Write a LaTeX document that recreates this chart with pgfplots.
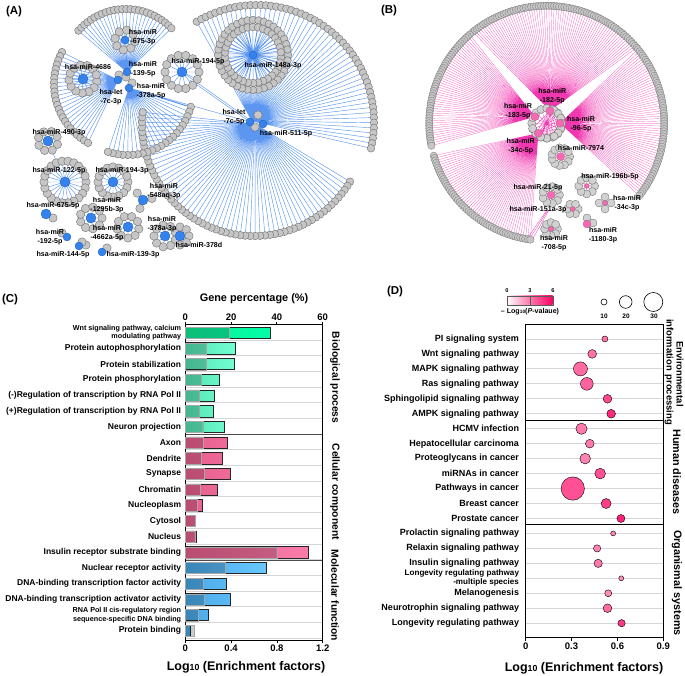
\documentclass[border=0pt]{standalone}
\usepackage{pgfplots}
\pgfplotsset{compat=1.18}
\usepackage{fontspec}
\setmainfont{Liberation Sans}
\definecolor{netblue}{HTML}{5C96F0}
\definecolor{hubblue}{HTML}{3482EE}
\definecolor{netpink}{HTML}{F038B0}
\definecolor{hubpink}{HTML}{F868B4}
\definecolor{nodefill}{HTML}{C6C6C6}
\definecolor{nodeline}{HTML}{6E6E6E}
\definecolor{rowline}{HTML}{D6D6D6}
\definecolor{g1}{HTML}{55E4B4}\definecolor{g2}{HTML}{72FFD2}
\definecolor{w1}{HTML}{10EE98}\definecolor{w2}{HTML}{00FFA8}
\definecolor{p1}{HTML}{E8608F}\definecolor{p2}{HTML}{F97CA8}
\definecolor{b1}{HTML}{4AA8E8}\definecolor{b2}{HTML}{68C8FF}
\definecolor{cmid}{RGB}{255,122,172}\definecolor{ctop}{RGB}{255,0,100}
\newcommand\F[1]{\bfseries\fontsize{#1}{#1}\selectfont}
\newcommand\SC{\fontsize{7.2}{8}\selectfont}
\newcommand\SD{\fontsize{8.1}{8.6}\selectfont}

% ---- layout helpers for the two network diagrams
\gdef\LinesA{}\gdef\LinesM{}\gdef\NodesA{}\gdef\SmallA{}\gdef\LinesB{}\gdef\LinesBf{}\gdef\NodesB{}\gdef\SmallB{}
\def\curL{LinesA}\def\curN{NodesA}
\newcommand\fan[8]{%
  \pgfmathtruncatemacro\mm{#8-1}%
  \foreach \i in {0,...,\mm}{%
    \pgfmathsetmacro\a{#6+(#7-(#6))*\i/\mm}%
    \pgfmathsetmacro\xx{#3+#5*cos(\a)}%
    \pgfmathsetmacro\yy{#4+#5*sin(\a)}%
    \expandafter\xdef\csname\curL\endcsname{\csname\curL\endcsname (#1,#2) (\xx,\yy) (nan,nan) }%
    \expandafter\xdef\csname\curN\endcsname{\csname\curN\endcsname (\xx,\yy) }%
  }}
\newcommand\ring[5]{\pgfmathsetmacro\aend{#5+360-360/#4}\edef\tmpa{\aend}%
  \fan{#1}{#2}{#1}{#2}{#3}{#5}{\tmpa}{#4}}
\newcommand\edge[4]{\expandafter\xdef\csname\curL\endcsname{\csname\curL\endcsname (#1,#2) (#3,#4) (nan,nan) }}
\newcommand\onenode[2]{\expandafter\xdef\csname\curN\endcsname{\csname\curN\endcsname (#1,#2) }}

% panel A
\fan{252}{121}{257}{122}{117}{-121}{13}{54}
\fan{255}{124}{254}{124}{112}{31}{186}{62}
\fan{127}{72}{126}{72}{63}{-139}{-44}{26}
\fan{118}{80}{122}{84}{68}{208}{120}{24}
\fan{129}{88}{128}{90}{65}{15}{108}{22}
\edge{118}{80}{83}{79}\edge{127}{72}{125}{40}\edge{48}{141}{60}{170}
\edge{182}{72}{250}{120}\edge{190}{80}{250}{122}\edge{129}{88}{250}{122}\edge{129}{88}{186}{106}
\def\curL{LinesM}
\ring{253}{55}{35}{40}{0}
\ring{253}{55}{28}{34}{5}
\def\curL{LinesM}\def\curN{SmallA}
\ring{125}{40}{10}{8}{10}
\ring{182}{72}{17}{14}{0}
\ring{83}{79}{14}{13}{10}
\ring{48}{141}{10}{8}{20}
\ring{65}{182}{21}{22}{0}
\ring{113}{182}{15}{16}{0}
\ring{143}{200}{9}{3}{-130}
\ring{91}{218}{11}{9}{0}
\ring{128}{227}{11}{9}{10}
\ring{165}{236}{11}{9}{20}
\fan{180}{236}{180}{236}{9}{-90}{90}{5}
\edge{46}{214}{53}{218}\onenode{53}{218}
\edge{67}{237}{62}{233}\onenode{62}{233}
\edge{79}{246}{86}{245}\onenode{86}{245}\edge{79}{246}{82}{242}\onenode{82}{242}
\edge{102}{252}{107}{248}\onenode{107}{248}
\edge{118}{80}{119}{75}\onenode{119}{75}\onenode{126}{77}\onenode{132}{83}
\onenode{258}{115}\onenode{255}{127}

% panel B
\def\curL{LinesB}\def\curN{NodesB}
\fan{550}{110.7}{546.7}{123.3}{117.5}{-129}{-40}{72}
\fan{560}{123.3}{546.7}{123.3}{117.5}{-39}{38}{62}
\fan{535}{116.7}{546.7}{123.3}{117.5}{-131}{-191}{50}
\fan{538.3}{133.3}{546.7}{123.3}{117.5}{164}{98}{54}
\def\curL{LinesBf}\def\curN{SmallB}
\edge{530}{238}{548}{210}\edge{532}{240}{549}{210}\edge{529}{236}{547}{210}
\ring{546.7}{123.3}{15}{16}{0}
\fan{550}{110.7}{546.7}{123.3}{15}{20}{160}{7}
\fan{538.3}{133.3}{546.7}{123.3}{15}{-60}{60}{7}
\ring{560.7}{156.7}{9}{11}{0}
\ring{586.7}{186}{8}{8}{0}
\ring{551}{195}{8.5}{9}{0}
\ring{572.7}{209}{5.5}{6}{0}
\ring{551}{229}{6.5}{8}{0}
\ring{605}{203}{6}{4}{0}
\edge{587}{224}{587}{218}\onenode{587}{218}\edge{587}{224}{593}{223}\onenode{593}{223}

\pgfplotsset{colormap={pinkscale}{rgb255(0cm)=(255,255,255); rgb255(3cm)=(255,122,172); rgb255(6cm)=(255,0,100)},
  pix/.style={at={(0pt,0pt)},anchor=south west,width=685pt,height=676pt,scale only axis,
  xmin=0,xmax=685,ymin=0,ymax=676,y dir=reverse,hide axis,clip=false,unbounded coords=jump}}

% row separators in panel C
\gdef\RowsC{}
\foreach \i in {0,...,19}{\pgfmathsetmacro\yy{\i+0.47}\xdef\RowsC{\RowsC (0,\yy) (1.2,\yy) (nan,nan) }}

\begin{document}
\begin{tikzpicture}
\path[use as bounding box] (0pt,0pt) rectangle (685pt,676pt);

% ===== Network panels on a pixel axis
\begin{axis}[pix]
\edef\tmp{\noexpand\addplot[color=netblue,line width=.45pt,no marks] coordinates {\LinesA};}\tmp
\addplot[only marks,mark=*,mark size=37pt,mark options={fill=white,draw=none}] coordinates {(253,55)};
\end{axis}
\begin{axis}[pix]
\edef\tmp{\noexpand\addplot[color=netblue,line width=.45pt,no marks] coordinates {\LinesM};}\tmp
\edef\tmp{\noexpand\addplot[color=netpink,line width=.2pt,no marks] coordinates {\LinesB};}\tmp
\edef\tmp{\noexpand\addplot[color=netpink,line width=.3pt,no marks] coordinates {\LinesBf};}\tmp
\edef\tmp{\noexpand\addplot[only marks,mark=*,mark size=3.8pt,mark options={fill=nodefill,draw=nodeline,line width=.4pt}] coordinates {\NodesA};}\tmp
\edef\tmp{\noexpand\addplot[only marks,mark=*,mark size=4.2pt,mark options={fill=nodefill,draw=nodeline,line width=.4pt}] coordinates {\SmallA};}\tmp
\addplot[only marks,mark=*,mark size=5pt,mark options={fill=hubblue,draw=hubblue!70!black,line width=.3pt}] coordinates {(83,79)(48,141)(65,182)(113,182)(182,72)(143,200)(46,214)(91,218)(128,227)(165,236)(180,236)};
\addplot[only marks,mark=*,mark size=4pt,mark options={fill=hubblue,draw=hubblue!70!black,line width=.3pt}] coordinates {(250,122)(263,124)(127,72)(118,80)(129,88)(67,237)(79,246)(102,252)(125,40)(253,55)};
\edef\tmp{\noexpand\addplot[only marks,mark=*,mark size=3.7pt,mark options={fill=nodefill,draw=nodeline,line width=.25pt}] coordinates {\NodesB};}\tmp
\edef\tmp{\noexpand\addplot[only marks,mark=*,mark size=4pt,mark options={fill=nodefill!80!white,draw=nodeline,line width=.35pt}] coordinates {\SmallB};}\tmp
\addplot[only marks,mark=*,mark size=4pt,mark options={fill=hubpink,draw=nodeline!70!hubpink,line width=.3pt}] coordinates {(550,110.7)(560,123.3)(535,116.7)(538.3,133.3)(560.7,156.7)(551,195)(587,224)};
\addplot[only marks,mark=*,mark size=2.5pt,mark options={fill=hubpink,draw=nodeline!70!hubpink,line width=.3pt}] coordinates {(586.7,186)(572.7,209)(551,229)(605,203)};
% size legend of panel D
\addplot[only marks,mark=*,mark size=3pt,mark options={fill=white,draw=black,line width=.6pt}] coordinates {(604,302)};
\addplot[only marks,mark=*,mark size=6.3pt,mark options={fill=white,draw=black,line width=.6pt}] coordinates {(625.7,302)};
\addplot[only marks,mark=*,mark size=9.5pt,mark options={fill=white,draw=black,line width=.6pt}] coordinates {(653.3,302)};
\end{axis}

% ===== Free text
\begin{axis}[pix]
\tikzset{lab/.style={font=\F{7.1},align=center,inner sep=0pt,text=black}}
\node[lab] at (axis cs:143,37) {hsa-miR\\[2pt]-675-3p};
\node[lab] at (axis cs:88,67) {hsa-miR-4686};
\node[lab] at (axis cs:143,69) {hsa-miR\\[2pt]-139-5p};
\node[lab] at (axis cs:198,62) {hsa-miR-194-5p};
\node[lab] at (axis cs:273,66) {hsa-miR-148a-3p};
\node[lab] at (axis cs:111,97) {hsa-let\\[2pt]-7c-3p};
\node[lab] at (axis cs:151,91) {hsa-miR\\[2pt]-378a-5p};
\node[lab] at (axis cs:234,117) {hsa-let\\[2pt]-7c-5p};
\node[lab] at (axis cs:286,134) {hsa-miR-511-5p};
\node[lab] at (axis cs:59,133) {hsa-miR-490-3p};
\node[lab] at (axis cs:59,171) {hsa-miR-122-5p};
\node[lab] at (axis cs:122,171) {hsa-miR-194-3p};
\node[lab] at (axis cs:164,191) {hsa-miR\\[2pt]-548aq-3p};
\node[lab] at (axis cs:53,206) {hsa-miR-675-5p};
\node[lab] at (axis cs:107,205) {hsa-miR\\[2pt]-1295b-3p};
\node[lab] at (axis cs:107,233) {hsa-miR\\[2pt]-4662a-5p};
\node[lab] at (axis cs:162,224) {hsa-miR\\[2pt]-378a-3p};
\node[lab] at (axis cs:199,245) {hsa-miR-378d};
\node[lab] at (axis cs:50,237) {hsa-miR\\[2pt]-192-5p};
\node[lab] at (axis cs:63,255) {hsa-miR-144-5p};
\node[lab] at (axis cs:133,255) {hsa-miR-139-3p};
\node[lab] at (axis cs:552.3,96) {hsa-miR\\[2pt]-182-5p};
\node[lab] at (axis cs:518,111) {hsa-miR\\[2pt]-183-5p};
\node[lab] at (axis cs:581,124) {hsa-miR\\[2pt]-96-5p};
\node[lab] at (axis cs:520.7,146) {hsa-miR\\[2pt]-34c-5p};
\node[lab] at (axis cs:581,148) {hsa-miR-7974};
\node[lab] at (axis cs:610,177) {hsa-miR-196b-5p};
\node[lab] at (axis cs:538,188) {hsa-miR-21-5p};
\node[lab] at (axis cs:627,203) {hsa-miR\\[2pt]-34c-3p};
\node[lab] at (axis cs:538,210) {hsa-miR-151a-3p};
\node[lab] at (axis cs:603,235) {hsa-miR\\[2pt]-1180-3p};
\node[lab] at (axis cs:554,243) {hsa-miR\\[2pt]-708-5p};

\node[font=\F{11.5},inner sep=0pt] at (axis cs:14,12) {(A)};
\node[font=\F{11.5},inner sep=0pt] at (axis cs:389,11) {(B)};
\node[font=\F{11.5},inner sep=0pt] at (axis cs:10,300) {(C)};
\node[font=\F{11.5},inner sep=0pt] at (axis cs:395,292) {(D)};

% colour legend of panel D
\shade[left color=white,right color=cmid] (axis cs:506.7,295.7) rectangle (axis cs:529.7,304.7);
\shade[left color=cmid,right color=ctop] (axis cs:529.7,295.7) rectangle (axis cs:552.7,304.7);
\draw[gray!70!black,line width=.4pt] (axis cs:506.7,295.7) rectangle (axis cs:552.7,304.7);
\draw[gray!70!black,line width=.4pt] (axis cs:529.7,295.7) -- (axis cs:529.7,304.7);
\node[font=\F{5.6},inner sep=0pt] at (axis cs:507,291) {0};
\node[font=\F{5.6},inner sep=0pt] at (axis cs:530,291) {3};
\node[font=\F{5.6},inner sep=0pt] at (axis cs:553,291) {6};
\node[font=\F{7.1},inner sep=0pt] at (axis cs:530,311.5) {– Log{\fontsize{4.8}{4.8}\selectfont 10}(\textit{P}-valaue)};
\node[font=\F{6.5},inner sep=0pt] at (axis cs:604,316) {10};
\node[font=\F{6.5},inner sep=0pt] at (axis cs:626,316) {20};
\node[font=\F{6.5},inner sep=0pt] at (axis cs:654,316) {30};

% group names
\tikzset{grp/.style={font=\F{10.3},rotate=-90,inner sep=0pt}}
\node[grp] at (axis cs:335,377.5) {Biological process};
\node[grp] at (axis cs:335,491.7) {Cellular component};
\node[grp] at (axis cs:335,595.5) {Molecular function};
\tikzset{grd/.style={font=\F{9.4},rotate=-90,inner sep=0pt}}
\node[grd] at (axis cs:680,374) {Environmental};
\node[grd] at (axis cs:669,372) {information\hspace{4pt}processing};
\node[font=\F{10.8},rotate=-90,inner sep=0pt] at (axis cs:677,472) {Human diseases};
\node[font=\F{10.8},rotate=-90,inner sep=0pt] at (axis cs:677,583) {Organismal systems};

% axis titles
\node[font=\F{10.9},inner sep=0pt] at (axis cs:254,299) {Gene percentage (\%)};
\node[font=\F{12.5},inner sep=0pt] at (axis cs:246,667) {Log{\fontsize{8.8}{8.8}\selectfont 10} (Enrichment factors)};
\node[font=\F{12.5},inner sep=0pt] at (axis cs:584,668) {Log{\fontsize{8.8}{8.8}\selectfont 10} (Enrichment factors)};
\end{axis}

% ===== Panel C: coloured bars on the log axis
\begin{axis}[at={(185.3pt,36pt)},anchor=south west,width=137.4pt,height=315pt,scale only axis,
  xmin=0,xmax=1.2,ymin=-0.49,ymax=19.59,y dir=reverse,clip=false,unbounded coords=jump,
  axis line style={line width=1pt},
  xtick={0,0.4,0.8,1.2},xticklabels={0,0.4,0.8,1.2},xtick pos=lower,
  tick align=outside,major tick length=3pt,tick style={line width=.8pt,black},
  xticklabel style={font=\F{9.5},inner sep=1.5pt},
  ytick={0,...,19},
  ytick style={draw=none},
  yticklabel style={font=\F{8.5},align=right,inner xsep=1pt,inner ysep=0pt},
  yticklabels={{\SC Wnt signaling pathway, calcium\\\SC modulating pathway},
    Protein autophosphorylation,Protein stabilization,Protein phosphorylation,
    (-)Regulation of transcription by RNA Pol II,(+)Regulation of transcription by RNA Pol II,
    Neuron projection,Axon,Dendrite,Synapse,Chromatin,Nucleoplasm,Cytosol,Nucleus,
    Insulin receptor substrate binding,Nuclear receptor activity,
    DNA-binding transcription factor activity,DNA-binding transcription activator activity,
    {\SC RNA Pol II cis-regulatory region\\\SC sequence-specific DNA binding},
    Protein binding},
]
\edef\tmp{\noexpand\addplot[sharp plot,color=rowline,line width=.9pt,no marks] coordinates {\RowsC};}\tmp
\addplot[sharp plot,color=black!70,line width=.7pt,no marks] coordinates {(0,6.5)(1.2,6.5)(nan,nan)(0,14.5)(1.2,14.5)};
\pgfplotsset{/tikz/bb/.style={xbar,bar width=11.3pt,bar shift=0pt,draw=black!85,line width=.5pt}}
\addplot[bb,left color=w1,right color=w2] coordinates {(0.746,0)};
\addplot[bb,left color=g1,right color=g2] coordinates {(0.44,1)(0.428,2)(0.30,3)(0.25,4)(0.245,5)(0.341,6)};
\addplot[bb,left color=p1,right color=p2] coordinates {(0.367,7)(0.323,8)(0.39,9)(0.277,10)(0.149,11)(0.09,12)(0.099,13)(1.072,14)};
\addplot[bb,left color=b1,right color=b2] coordinates {(0.705,15)(0.361,16)(0.39,17)(0.201,18)(0.047,19)};
\end{axis}

% ===== Panel C: translucent bars on the gene percentage axis
\begin{axis}[at={(185.3pt,36pt)},anchor=south west,width=137.4pt,height=315pt,scale only axis,
  xmin=0,xmax=60,ymin=-0.49,ymax=19.59,y dir=reverse,clip=false,
  axis line style={line width=1pt},
  xtick={0,20,40,60},xticklabels={0,20,40,60},xtick pos=upper,xticklabel pos=upper,
  tick align=outside,major tick length=3pt,tick style={line width=.8pt,black},
  xticklabel style={font=\F{9.5},inner sep=1.5pt},
  ytick=\empty,
]
\addplot[xbar,bar width=11.3pt,bar shift=0pt,draw=black!35,line width=.3pt,fill=black,fill opacity=.2]
 coordinates {(19.1,0)(9.3,1)(9.3,2)(6.8,3)(6.1,4)(6.1,5)(7.6,6)(8.0,7)(7.1,8)(8.4,9)(6.4,10)(5.0,11)(4.5,12)(4.1,13)(39.9,14)(17.3,15)(7.9,16)(8.4,17)(5.5,18)(3.8,19)};
\end{axis}

% ===== Panel D
\begin{axis}[at={(525.7pt,38.3pt)},anchor=south west,width=137.6pt,height=313.4pt,scale only axis,
  xmin=0,xmax=0.9,ymin=-0.98,ymax=19.97,y dir=reverse,clip=false,
  axis line style={line width=1pt},
  xtick={0,0.3,0.6,0.9},xticklabels={0,0.3,0.6,0.9},xtick pos=lower,
  tick align=outside,major tick length=3pt,tick style={line width=.8pt,black},
  xticklabel style={font=\F{9.5},inner sep=1.5pt},
  ytick={0,...,19},ytick style={draw=none},
  ymajorgrids,grid style={rowline,line width=.9pt},
  yticklabel style={font=\F{9},align=right,inner xsep=3.5pt,inner ysep=0pt},
  yticklabels={PI signaling system,Wnt signaling pathway,MAPK signaling pathway,Ras signaling pathway,
    Sphingolipid signaling pathway,AMPK signaling pathway,HCMV infection,Hepatocellular carcinoma,
    Proteoglycans in cancer,miRNAs in cancer,Pathways in cancer,Breast cancer,Prostate cancer,
    Prolactin signaling pathway,Relaxin signaling pathway,Insulin signaling pathway,
    {\SD Longevity regulating pathway\\\SD -multiple species},
    Melanogenesis,Neurotrophin signaling pathway,Longevity regulating pathway},
  colormap name=pinkscale,point meta min=0,point meta max=6,
]
\addplot[color=black,line width=1pt,no marks] coordinates {(0,5.42)(0.9,5.42)};
\addplot[color=black,line width=1pt,no marks] coordinates {(0,12.38)(0.9,12.38)};
\addplot[scatter,only marks,mark=*,point meta=explicit,
  scatter/use mapped color={draw=black,fill=mapped color},
  visualization depends on={\thisrow{d}/2 \as \rad},
  scatter/@pre marker code/.append style={/tikz/mark size=\rad pt,/tikz/line width=.6pt}]
 table[x=x,y=y,meta=p]{
x y d p
0.518 0 6 3.2
0.435 1 8.7 3.2
0.358 2 14 3.4
0.400 3 12.7 3.6
0.535 4 8.7 4.2
0.559 5 8.7 5
0.365 6 11.3 3
0.419 7 8.7 3
0.389 8 10.7 2.8
0.487 9 10.7 4
0.308 10 23.3 4
0.526 11 10 4.5
0.623 12 8 5.2
0.572 13 5 2.8
0.467 14 7.3 2.8
0.474 15 8.3 3
0.625 16 5 2.6
0.540 17 7 2.6
0.535 18 8.7 3.4
0.627 19 7.3 4.6
};
\end{axis}
\end{tikzpicture}
\end{document}
